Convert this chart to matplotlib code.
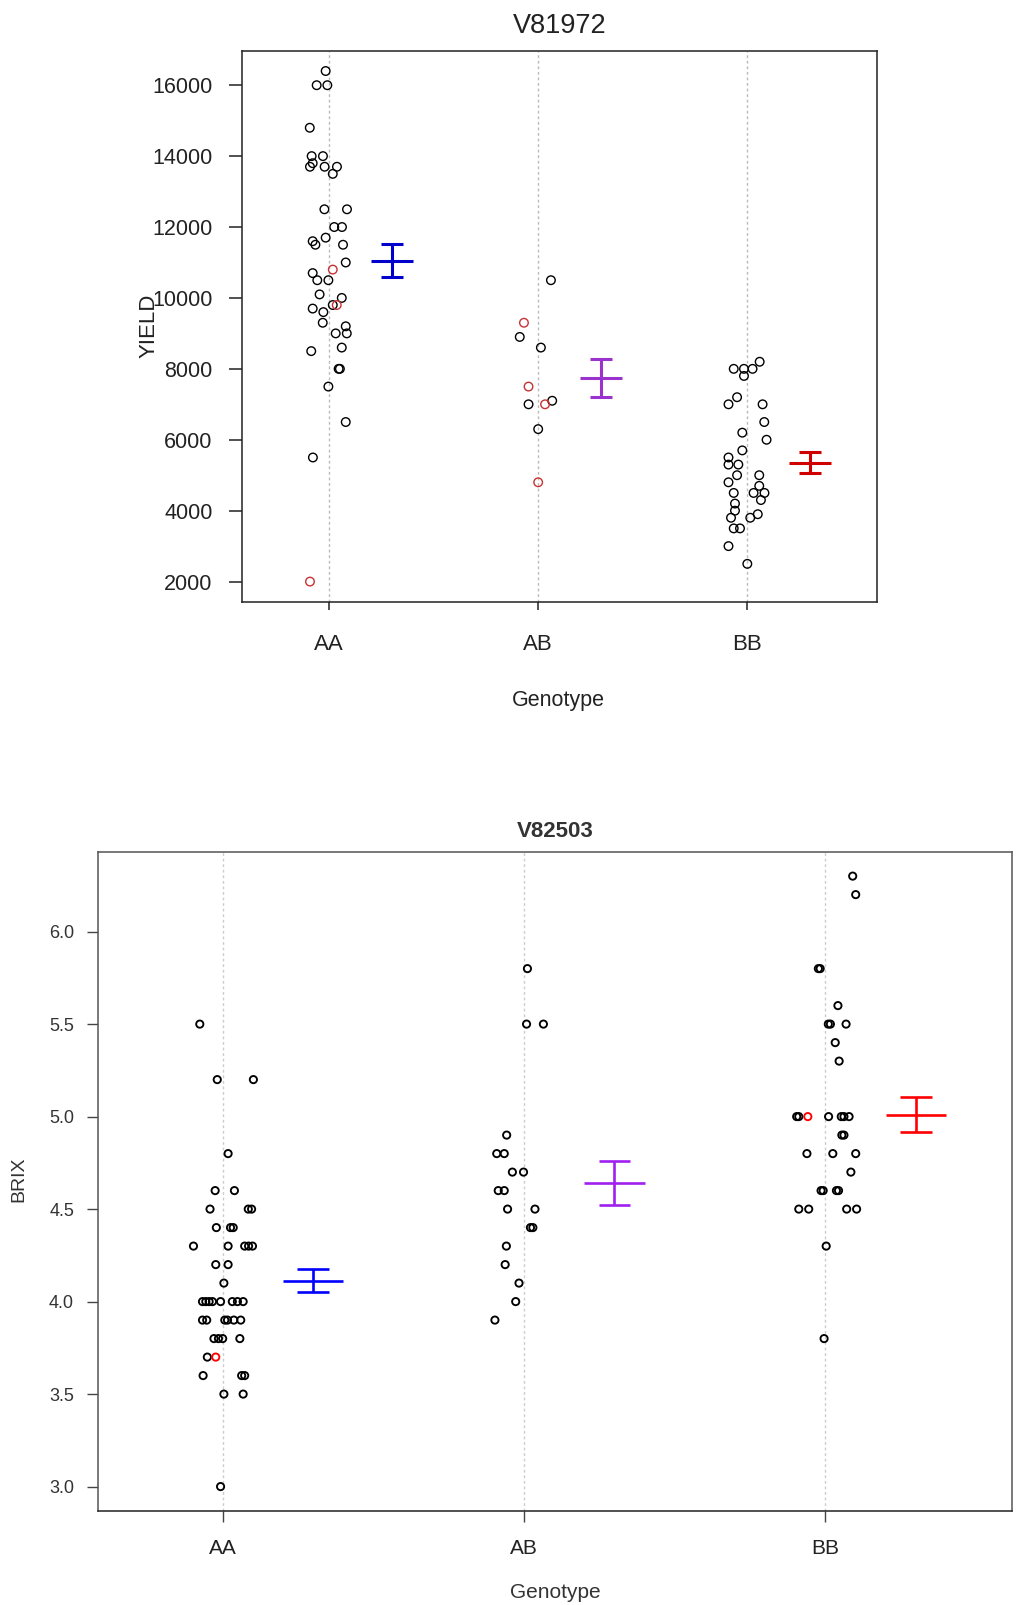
import matplotlib
matplotlib.use('Agg')
import matplotlib.pyplot as plt
from matplotlib import font_manager

# ---------------- data ----------------
genotypes = ['AA', 'AB', 'BB']

# V81972 / YIELD : (value, horizontal jitter) black points
yield_AA = [16400, 16000, 16000, 14800, 14000, 14000, 13800, 13700, 13700, 13700, 13500,
            12500, 12500, 12000, 12000, 11700, 11600, 11500, 11500, 11000, 10700, 10500,
            10500, 10100, 10000, 9800, 9700, 9600, 9300, 9200, 9000, 9000, 8500, 8600,
            8000, 8000, 7500, 6500, 5500]
yield_AA_dx = [-0.016, -0.059, -0.008, -0.092, -0.083, -0.029, -0.078, -0.091, -0.021, 0.038, 0.018,
               -0.022, 0.086, 0.025, 0.062, -0.016, -0.078, -0.065, 0.067, 0.080, -0.078, -0.056,
               -0.003, -0.045, 0.061, 0.018, -0.078, -0.027, -0.030, 0.080, 0.032, 0.085, -0.085, 0.061,
               0.046, 0.052, -0.003, 0.080, -0.077]
yield_AA_red = [10800, 9800, 2000]
yield_AA_red_dx = [0.018, 0.037, -0.091]

yield_AB = [10500, 8900, 8600, 7000, 7100, 6300]
yield_AB_dx = [0.061, -0.088, 0.013, -0.046, 0.067, 0.0]
yield_AB_red = [9300, 7500, 7000, 4800]
yield_AB_red_dx = [-0.068, -0.046, 0.033, 0.0]

yield_BB = [8200, 8000, 8000, 8000, 7800, 7200, 7000, 7000, 6500, 6200, 6000, 5700, 5500,
            5300, 5300, 5000, 5000, 4800, 4700, 4500, 4500, 4500, 4300, 4200, 4000, 3800,
            3800, 3900, 3500, 3500, 3000, 2500]
yield_BB_dx = [0.059, -0.065, -0.016, 0.025, -0.016, -0.049, -0.090, 0.073, 0.081, -0.024, 0.092,
               -0.024, -0.090, -0.090, -0.043, -0.049, 0.057, -0.090, 0.057, -0.065, 0.030, 0.082,
               0.065, -0.059, -0.059, -0.078, 0.014, 0.050, -0.065, -0.035, -0.090, 0.0]
yield_BB_red = []
yield_BB_red_dx = []

yield_mean = [11050, 7741, 5357]
yield_se = [470, 529, 287]

# V82503 / BRIX
brix_AA = [5.5, 5.2, 5.2, 4.8, 4.6, 4.6, 4.5, 4.5, 4.5, 4.4, 4.4, 4.4,
           4.3, 4.3, 4.3, 4.3, 4.3, 4.2, 4.2, 4.1,
           4.0, 4.0, 4.0, 4.0, 4.0, 4.0, 4.0, 4.0,
           3.9, 3.9, 3.9, 3.9, 3.9, 3.9, 3.8, 3.8, 3.8, 3.8, 3.7,
           3.6, 3.6, 3.6, 3.5, 3.5, 3.0]
brix_AA_dx = [-0.077, -0.019, 0.101, 0.017, -0.026, 0.038, -0.043, 0.084, 0.095, -0.022, 0.025, 0.034,
              -0.098, 0.017, 0.072, 0.085, 0.098, -0.024, 0.017, 0.003,
              -0.068, -0.057, -0.046, -0.035, -0.008, 0.031, 0.048, 0.067,
              -0.068, -0.054, 0.006, 0.015, 0.036, 0.059, -0.030, -0.015, -0.001, 0.056, -0.052,
              -0.066, 0.062, 0.072, 0.003, 0.067, -0.008]
brix_AA_red = [3.7]
brix_AA_red_dx = [-0.024]

brix_AB = [5.8, 5.5, 5.5, 4.9, 4.8, 4.8, 4.7, 4.7, 4.6, 4.6, 4.5, 4.5, 4.4, 4.4,
           4.3, 4.2, 4.1, 4.0, 3.9]
brix_AB_dx = [0.011, 0.008, 0.064, -0.058, -0.091, -0.066, -0.039, -0.002, -0.086, -0.066,
              -0.055, 0.036, 0.021, 0.029, -0.059, -0.063, -0.017, -0.028, -0.097]
brix_AB_red = []
brix_AB_red_dx = []

brix_BB = [6.3, 6.2, 5.8, 5.8, 5.6, 5.5, 5.5, 5.5, 5.4, 5.3,
           5.0, 5.0, 5.0, 5.0, 5.0, 5.0, 4.9, 4.9, 4.8, 4.8, 4.8, 4.7,
           4.6, 4.6, 4.6, 4.6, 4.5, 4.5, 4.5, 4.5, 4.3, 3.8]
brix_BB_dx = [0.091, 0.101, -0.023, -0.017, 0.042, 0.010, 0.017, 0.069, 0.033, 0.046,
              -0.095, -0.088, 0.011, 0.053, 0.062, 0.079, 0.055, 0.062, -0.061, 0.025, 0.101, 0.085,
              -0.014, -0.007, 0.037, 0.044, -0.088, -0.055, 0.071, 0.104, 0.003, -0.004]
brix_BB_red = [5.0]
brix_BB_red_dx = [-0.058]

brix_mean = [4.114, 4.642, 5.011]
brix_se = [0.064, 0.120, 0.094]

# ---------------- styling / layout ----------------
W, H = 1017, 1605
fig = plt.figure(figsize=(W / 100, H / 100), dpi=100)
FONT = 'Liberation Sans'
installed = {f.name for f in font_manager.fontManager.ttflist}
NARROW = 'Liberation Sans Narrow' if 'Liberation Sans Narrow' in installed else FONT


def rect(l, t, r, b):
    return [l / W, 1 - b / H, (r - l) / W, (b - t) / H]


def draw_panel(ax, groups, mean, se, bar_colors, red_color, msize, mlw, bar_lw, grid_color):
    for i, (vals, dxs, rv, rdx) in enumerate(groups):
        xpos = i + 1
        ax.axvline(xpos, color=grid_color, lw=1.0, ls=(0, (2, 2)), zorder=0)
        ax.scatter([xpos + d for d in dxs], vals, s=msize, facecolors='none',
                   edgecolors='black', linewidths=mlw, zorder=2)
        if rv:
            ax.scatter([xpos + d for d in rdx], rv, s=msize, facecolors='none',
                       edgecolors=red_color, linewidths=mlw, zorder=3)
    for i in range(len(mean)):
        xc = i + 1 + 0.30
        c = bar_colors[i]
        ax.hlines(mean[i], xc - 0.10, xc + 0.10, color=c, lw=bar_lw, zorder=4)
        ax.hlines([mean[i] - se[i], mean[i] + se[i]], xc - 0.053, xc + 0.053, color=c, lw=bar_lw, zorder=4)
        ax.vlines(xc, mean[i] - se[i], mean[i] + se[i], color=c, lw=bar_lw, zorder=4)
    ax.set_xlim(0.584, 3.62)


# ---- top panel ----
ax1 = fig.add_axes(rect(242, 50.6, 877, 602))
draw_panel(ax1,
           [(yield_AA, yield_AA_dx, yield_AA_red, yield_AA_red_dx),
            (yield_AB, yield_AB_dx, yield_AB_red, yield_AB_red_dx),
            (yield_BB, yield_BB_dx, yield_BB_red, yield_BB_red_dx)],
           yield_mean, yield_se, ['#0000CD', '#9A32CD', '#D00000'], '#C83232',
           msize=38, mlw=1.0, bar_lw=2.2, grid_color='#BBBBBB')
ax1.set_ylim(1424, 16976)
ax1.set_yticks(range(2000, 16001, 2000))
ax1.set_yticklabels([str(v) for v in range(2000, 16001, 2000)], fontsize=15.5, family=FONT)
ax1.set_xticks([1, 2, 3])
ax1.set_xticklabels(genotypes, fontsize=16, family=FONT)
ax1.tick_params(axis='y', direction='out', length=9.2, width=1.1, pad=12, colors='#222222')
ax1.tick_params(axis='x', direction='out', length=5.8, width=1.1, pad=17, colors='#222222')
for sp in ax1.spines.values():
    sp.set_linewidth(1.1)
    sp.set_color('#222222')
fig.text(559.5 / W, 1 - 33.3 / H, 'V81972', ha='center', va='baseline', fontsize=19.5,
         family=FONT, color='#222222')
fig.text(558 / W, 1 - 706 / H, 'Genotype', ha='center', va='baseline', fontsize=15.5,
         family=FONT, color='#222222')
fig.text(149 / W, 1 - 326 / H, 'YIELD', ha='center', va='center', rotation=90, fontsize=16,
         family=FONT, color='#222222')

# ---- bottom panel ----
ax2 = fig.add_axes(rect(97.7, 851.7, 1012, 1511))
draw_panel(ax2,
           [(brix_AA, brix_AA_dx, brix_AA_red, brix_AA_red_dx),
            (brix_AB, brix_AB_dx, brix_AB_red, brix_AB_red_dx),
            (brix_BB, brix_BB_dx, brix_BB_red, brix_BB_red_dx)],
           brix_mean, brix_se, ['#0000FF', '#A020F0', '#FF0000'], '#FF0000',
           msize=27, mlw=1.35, bar_lw=1.9, grid_color='#CCCCCC')
ax2.set_ylim(2.868, 6.432)
bt = [3.0, 3.5, 4.0, 4.5, 5.0, 5.5, 6.0]
ax2.set_yticks(bt)
ax2.set_yticklabels([f'{v:.1f}' for v in bt], fontsize=13, family=FONT, color='#333333')
ax2.set_xticks([1, 2, 3])
ax2.set_xticklabels(genotypes, fontsize=15, family=NARROW, color='#222222')
ax2.tick_params(axis='y', direction='out', length=8, width=1.0, pad=9, color='#444444')
ax2.tick_params(axis='x', direction='out', length=8, width=1.0, pad=12, color='#444444')
for name, sp in ax2.spines.items():
    sp.set_linewidth(1.1)
    sp.set_color('#555555' if name != 'bottom' else '#222222')
fig.text(555 / W, 1 - 837 / H, 'V82503', ha='center', va='baseline', fontsize=16,
         fontweight='bold', family=NARROW, color='#333333')
fig.text(555 / W, 1 - 1598 / H, 'Genotype', ha='center', va='baseline', fontsize=15,
         family=NARROW, color='#333333')
fig.text(18.4 / W, 1 - 1179 / H, 'BRIX', ha='center', va='center', rotation=90, fontsize=14,
         family=NARROW, color='#333333')

fig.savefig('out.png', dpi=100, facecolor='white')
